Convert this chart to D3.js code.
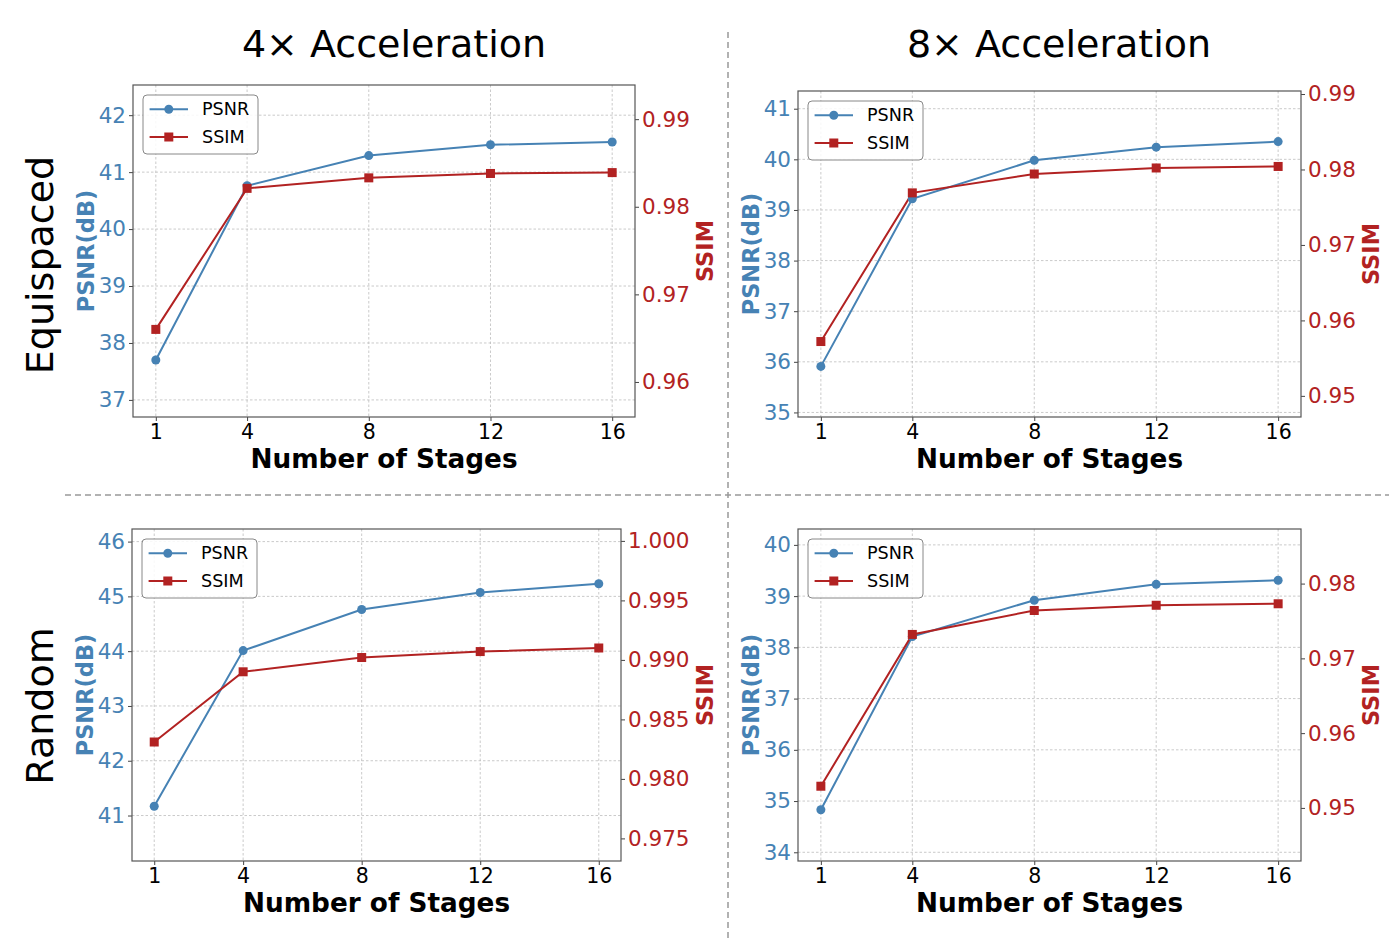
<!DOCTYPE html>
<html><head><meta charset="utf-8">
<script src="https://cdn.jsdelivr.net/npm/d3@7"></script>
<style>body{margin:0;background:#fff} svg{display:block} text{font-family:"DejaVu Sans",sans-serif}</style>
</head><body>
<svg id="c" width="1389" height="940"></svg>
<script>
// ---------- data ----------
const stages = [1, 4, 8, 12, 16];
const colTitles = ["4× Acceleration", "8× Acceleration"];
const rowLabels = ["Equispaced", "Random"];
const seriesNames = ["PSNR", "SSIM"];

const psnrEq4 = [37.70, 40.76, 41.29, 41.48, 41.53];
const ssimEq4 = [0.9660, 0.9821, 0.9833, 0.9838, 0.9839];
const psnrEq8 = [35.91, 39.22, 39.98, 40.24, 40.35];
const ssimEq8 = [0.9572, 0.9769, 0.9794, 0.9802, 0.9804];
const psnrRa4 = [41.17, 44.01, 44.76, 45.07, 45.23];
const ssimRa4 = [0.9831, 0.9890, 0.9902, 0.9907, 0.9910];
const psnrRa8 = [34.83, 38.21, 38.92, 39.23, 39.31];
const ssimRa8 = [0.9529, 0.9732, 0.9764, 0.9771, 0.9773];

const psnrTicksEq4 = [37, 38, 39, 40, 41, 42];
const ssimTicksEq4 = [0.96, 0.97, 0.98, 0.99];
const psnrTicksEq8 = [35, 36, 37, 38, 39, 40, 41];
const ssimTicksEq8 = [0.95, 0.96, 0.97, 0.98, 0.99];
const psnrTicksRa4 = [41, 42, 43, 44, 45, 46];
const ssimTicksRa4 = [0.975, 0.980, 0.985, 0.990, 0.995, 1.000];
const psnrTicksRa8 = [34, 35, 36, 37, 38, 39, 40];
const ssimTicksRa8 = [0.95, 0.96, 0.97, 0.98];

// ---------- layout / style ----------
const BLUE = "#4682B4", RED = "#B22222";
const panels = [
  {psnr: psnrEq4, ssim: ssimEq4, pt: psnrTicksEq4, st: ssimTicksEq4, fmt: ".2f", box: {l: 133, r: 635, t: 85, b: 417}},
  {psnr: psnrEq8, ssim: ssimEq8, pt: psnrTicksEq8, st: ssimTicksEq8, fmt: ".2f", box: {l: 798, r: 1301, t: 91, b: 417}},
  {psnr: psnrRa4, ssim: ssimRa4, pt: psnrTicksRa4, st: ssimTicksRa4, fmt: ".3f", box: {l: 132, r: 621, t: 529, b: 861}},
  {psnr: psnrRa8, ssim: ssimRa8, pt: psnrTicksRa8, st: ssimTicksRa8, fmt: ".2f", box: {l: 798, r: 1301, t: 529, b: 861}}
];

const svg = d3.select("#c");
svg.append("rect").attr("width", 1389).attr("height", 940).attr("fill", "#fff");

// separators
svg.append("line").attr("x1", 728).attr("x2", 728).attr("y1", 32).attr("y2", 940)
  .attr("stroke", "#999").attr("stroke-width", 1.5).attr("stroke-dasharray", "6,4");
svg.append("line").attr("x1", 65).attr("x2", 1389).attr("y1", 495).attr("y2", 495)
  .attr("stroke", "#999").attr("stroke-width", 1.5).attr("stroke-dasharray", "6,4");

// column titles
[394, 1059].forEach((cx, i) => {
  svg.append("text").attr("x", cx).attr("y", 57).attr("text-anchor", "middle")
    .attr("font-size", 38).attr("fill", "#000").text(colTitles[i]);
});
// row labels
[265, 706].forEach((cy, i) => {
  svg.append("text").attr("transform", `translate(53,${cy}) rotate(-90)`).attr("text-anchor", "middle")
    .attr("font-size", 38).attr("fill", "#000").text(rowLabels[i]);
});

panels.forEach(p => {
  const B = p.box;
  const x = d3.scaleLinear().domain([stages[0] - 0.75, stages[4] + 0.75]).range([B.l, B.r]);
  const yP = d3.scaleLinear().domain([d3.min(p.psnr) - 1, d3.max(p.psnr) + 1]).range([B.b, B.t]);
  const yS = d3.scaleLinear().domain([d3.min(p.ssim) - 0.01, d3.max(p.ssim) + 0.01]).range([B.b, B.t]);
  const g = svg.append("g");

  // grid
  const grid = g.append("g").attr("stroke", "#bdbdbd").attr("stroke-width", 0.8).attr("stroke-dasharray", "2.5,2");
  stages.forEach(s => grid.append("line").attr("x1", x(s)).attr("x2", x(s)).attr("y1", B.t).attr("y2", B.b));
  p.pt.forEach(v => grid.append("line").attr("x1", B.l).attr("x2", B.r).attr("y1", yP(v)).attr("y2", yP(v)));

  // axes
  const ax = g.append("g").attr("transform", `translate(0,${B.b})`)
    .call(d3.axisBottom(x).tickValues(stages).tickSize(4).tickPadding(3).tickFormat(d3.format("d")));
  ax.selectAll("text").attr("font-size", 20.5).attr("fill", "#000").attr("font-family", "DejaVu Sans");
  ax.selectAll("line").attr("stroke", "#444");
  ax.select(".domain").remove();

  const al = g.append("g").attr("transform", `translate(${B.l},0)`)
    .call(d3.axisLeft(yP).tickValues(p.pt).tickSize(4).tickPadding(3).tickFormat(d3.format("d")));
  al.selectAll("text").attr("font-size", 21.5).attr("fill", BLUE).attr("font-family", "DejaVu Sans");
  al.selectAll("line").attr("stroke", "#444");
  al.select(".domain").remove();

  const ar = g.append("g").attr("transform", `translate(${B.r},0)`)
    .call(d3.axisRight(yS).tickValues(p.st).tickSize(4).tickPadding(3).tickFormat(d3.format(p.fmt)));
  ar.selectAll("text").attr("font-size", 21.5).attr("fill", RED).attr("font-family", "DejaVu Sans");
  ar.selectAll("line").attr("stroke", "#444");
  ar.select(".domain").remove();

  // frame
  g.append("rect").attr("x", B.l).attr("y", B.t).attr("width", B.r - B.l).attr("height", B.b - B.t)
    .attr("fill", "none").attr("stroke", "#555").attr("stroke-width", 1.2);

  // lines
  const lineP = d3.line().x((d, i) => x(stages[i])).y(d => yP(d));
  const lineS = d3.line().x((d, i) => x(stages[i])).y(d => yS(d));
  g.append("path").datum(p.psnr).attr("d", lineP).attr("fill", "none").attr("stroke", BLUE).attr("stroke-width", 2);
  g.append("path").datum(p.ssim).attr("d", lineS).attr("fill", "none").attr("stroke", RED).attr("stroke-width", 2);
  g.selectAll(null).data(p.psnr).enter().append("circle")
    .attr("cx", (d, i) => x(stages[i])).attr("cy", d => yP(d)).attr("r", 4.5).attr("fill", BLUE);
  g.selectAll(null).data(p.ssim).enter().append("rect")
    .attr("x", (d, i) => x(stages[i]) - 4.5).attr("y", d => yS(d) - 4.5).attr("width", 9).attr("height", 9).attr("fill", RED);

  // axis labels
  g.append("text").attr("x", (B.l + B.r) / 2).attr("y", B.b + 51).attr("text-anchor", "middle")
    .attr("font-size", 26.3).attr("font-weight", "bold").attr("fill", "#000").text("Number of Stages");
  const lb = al.node().getBBox();
  g.append("text").attr("transform", `translate(${B.l + lb.x - 5},${(B.t + B.b) / 2}) rotate(-90)`)
    .attr("text-anchor", "middle").attr("font-size", 22.5).attr("font-weight", "bold").attr("fill", BLUE).text("PSNR(dB)");
  const rb = ar.node().getBBox();
  g.append("text").attr("transform", `translate(${B.r + rb.x + rb.width + 23},${(B.t + B.b) / 2}) rotate(-90)`)
    .attr("text-anchor", "middle").attr("font-size", 22.5).attr("font-weight", "bold").attr("fill", RED).text("SSIM");

  // legend
  const L = g.append("g").attr("transform", `translate(${B.l + 10},${B.t + 10})`);
  L.append("rect").attr("width", 115).attr("height", 59).attr("rx", 4)
    .attr("fill", "#fff").attr("fill-opacity", 0.85).attr("stroke", "#888").attr("stroke-width", 1);
  [[BLUE, "c"], [RED, "s"]].forEach((e, i) => {
    const cy = 14.3 + i * 27.7;
    L.append("line").attr("x1", 6.6).attr("x2", 45).attr("y1", cy).attr("y2", cy).attr("stroke", e[0]).attr("stroke-width", 2);
    if (e[1] === "c") L.append("circle").attr("cx", 25.8).attr("cy", cy).attr("r", 4.5).attr("fill", e[0]);
    else L.append("rect").attr("x", 21.3).attr("y", cy - 4.5).attr("width", 9).attr("height", 9).attr("fill", e[0]);
    L.append("text").attr("x", 59).attr("y", cy).attr("dy", "0.35em").attr("font-size", 17.6).attr("fill", "#000").text(seriesNames[i]);
  });
});
</script>
</body></html>
